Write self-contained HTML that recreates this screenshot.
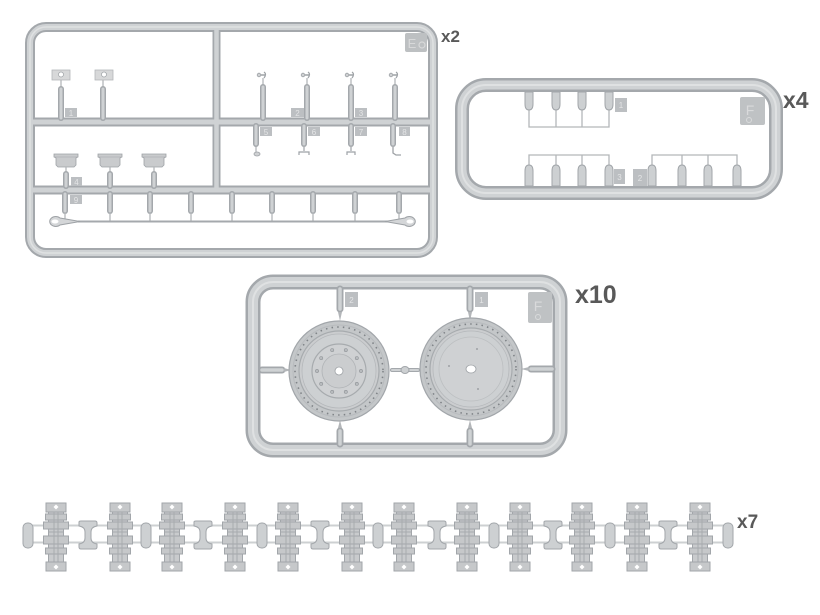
<!DOCTYPE html>
<html>
<head>
<meta charset="utf-8">
<style>
html,body{margin:0;padding:0;background:#fff;}
svg{display:block;}
.t{font-family:"Liberation Sans",sans-serif;font-weight:bold;fill:#595959;}
.lb{fill:#bcbfc2;}
.lt{font-family:"Liberation Sans",sans-serif;font-size:8px;fill:#e4e5e6;text-anchor:middle;}
.d{fill:none;stroke:#a4a8ac;}
.l{fill:none;stroke:#cfd2d4;}
.h{fill:none;stroke:#dfe1e2;}
.thin{fill:none;stroke:#b3b6b9;stroke-width:1.3;}
</style>
</head>
<body>
<svg width="820" height="615" viewBox="0 0 820 615" xmlns="http://www.w3.org/2000/svg">
<defs>
  <g id="link">
    <rect x="-10" y="-32" width="20" height="9" fill="#c6c8ca" stroke="#a2a6aa" stroke-width="1"/>
    <path d="M0,-30.5 L2.5,-28 L0,-25.5 L-2.5,-28Z" fill="#fff"/>
    <rect x="-7.5" y="-23" width="15" height="50" fill="#c9cbcd" stroke="#a2a6aa" stroke-width="1"/>
    <rect x="-10.5" y="-21" width="21" height="6" fill="#c6c8ca" stroke="#a2a6aa" stroke-width="1"/>
    <rect x="-12.5" y="-13" width="25" height="7" fill="#c6c8ca" stroke="#a2a6aa" stroke-width="1"/>
    <rect x="-12.5" y="1" width="25" height="8" fill="#c6c8ca" stroke="#a2a6aa" stroke-width="1"/>
    <rect x="-10.5" y="13" width="21" height="6" fill="#c6c8ca" stroke="#a2a6aa" stroke-width="1"/>
    <line x1="-2" y1="-23" x2="-2" y2="27" stroke="#a8abae" stroke-width="1"/>
    <line x1="2" y1="-23" x2="2" y2="27" stroke="#a8abae" stroke-width="1"/>
    <line x1="-7.5" y1="-3" x2="7.5" y2="-3" stroke="#a8abae" stroke-width="1"/>
    <rect x="-10" y="27" width="20" height="9" fill="#c6c8ca" stroke="#a2a6aa" stroke-width="1"/>
    <path d="M0,29.5 L2.5,32 L0,34.5 L-2.5,32Z" fill="#fff"/>
  </g>
  <g id="hconn">
    <path d="M-9,-13 Q-9,-14 -7,-14 L7,-14 Q9,-14 9,-12 L9,-9 Q3,-8 3,-3 L3,3 Q3,8 9,9 L9,12 Q9,14 7,14 L-7,14 Q-9,14 -9,12 L-9,9 Q-3,8 -3,3 L-3,-3 Q-3,-8 -9,-9Z" fill="#cdd0d2" stroke="#a2a6aa" stroke-width="1"/>
  </g>
  <g id="pill">
    <rect x="-5" y="-12" width="10" height="25" rx="4.5" fill="#cdd0d2" stroke="#a2a6aa" stroke-width="1"/>
  </g>
  <g id="hk">
    <line class="thin" x1="0" y1="78" x2="0" y2="86"/>
    <line class="d" x1="0" y1="87" x2="0" y2="118" stroke-width="6" stroke-linecap="round"/>
    <line class="l" x1="0" y1="87" x2="0" y2="118" stroke-width="3" stroke-linecap="round"/>
    <path d="M-6,75 L2,75" stroke="#9ea2a6" stroke-width="1.5"/>
    <circle cx="-4" cy="75" r="1.8" fill="#cfd1d3" stroke="#9ea2a6" stroke-width="0.8"/>
    <path d="M1,72 Q4,74 1,78" fill="none" stroke="#9ea2a6" stroke-width="1.2"/>
  </g>
  <g id="hd">
    <path d="M-12,154 L12,154 L12,157 L10,158 L10,165 L8,167 L-8,167 L-10,165 L-10,158 L-12,157Z" fill="#c9cbcd" stroke="#9ea2a6" stroke-width="0.8"/>
    <line x1="-12" y1="157" x2="12" y2="157" stroke="#aeb1b4" stroke-width="0.8"/>
    <line class="thin" x1="0" y1="167" x2="0" y2="173"/>
    <line class="d" x1="0" y1="174" x2="0" y2="186" stroke-width="6" stroke-linecap="round"/>
    <line class="l" x1="0" y1="174" x2="0" y2="186" stroke-width="3" stroke-linecap="round"/>
  </g>
  <g id="bs">
    <line class="d" x1="0" y1="194" x2="0" y2="211" stroke-width="6" stroke-linecap="round"/>
    <line class="l" x1="0" y1="194" x2="0" y2="211" stroke-width="3" stroke-linecap="round"/>
    <line class="thin" x1="0" y1="213" x2="0" y2="221"/>
  </g>
  <g id="pu">
    <path d="M-4,92 L4,92 L4,104 Q4,110 0,110 Q-4,110 -4,104Z" fill="#cdd0d2" stroke="#a2a6aa" stroke-width="1"/>
  </g>
  <g id="pl">
    <path d="M-4,186 L4,186 L4,171 Q4,165 0,165 Q-4,165 -4,171Z" fill="#cdd0d2" stroke="#a2a6aa" stroke-width="1"/>
  </g>
</defs>

<!-- ================= SPRUE 1 ================= -->
<g>
  <rect class="d" x="30" y="27" width="403" height="226" rx="16" stroke-width="10"/>
  <line class="d" x1="216.5" y1="27" x2="216.5" y2="190" stroke-width="8"/>
  <line class="d" x1="30" y1="122" x2="433" y2="122" stroke-width="9"/>
  <line class="d" x1="30" y1="190" x2="433" y2="190" stroke-width="9"/>
  <rect class="l" x="30" y="27" width="403" height="226" rx="16" stroke-width="6"/>
  <line class="l" x1="216.5" y1="29" x2="216.5" y2="188" stroke-width="4.5"/>
  <line class="l" x1="32" y1="122" x2="431" y2="122" stroke-width="5"/>
  <line class="l" x1="32" y1="190" x2="431" y2="190" stroke-width="5"/>
  <rect class="h" x="30" y="27" width="403" height="226" rx="16" stroke-width="1.5"/>

  <rect x="405" y="33" width="22" height="19" rx="2" fill="#bdc0c2"/>
  <text x="412" y="48" font-family="Liberation Sans, sans-serif" font-size="13" fill="#d8d9da" text-anchor="middle">E</text>
  <circle cx="422" cy="45" r="3" fill="none" stroke="#d8d9da" stroke-width="1.2"/>

  <g>
    <line class="thin" x1="61" y1="80" x2="61" y2="88"/>
    <line class="thin" x1="103" y1="80" x2="103" y2="88"/>
    <line class="d" x1="61" y1="89" x2="61" y2="118" stroke-width="6" stroke-linecap="round"/>
    <line class="d" x1="103" y1="89" x2="103" y2="118" stroke-width="6" stroke-linecap="round"/>
    <line class="l" x1="61" y1="89" x2="61" y2="118" stroke-width="3" stroke-linecap="round"/>
    <line class="l" x1="103" y1="89" x2="103" y2="118" stroke-width="3" stroke-linecap="round"/>
    <rect x="52" y="70" width="18" height="10" fill="#d7d8d9" stroke="#b4b7ba" stroke-width="0.8"/>
    <circle cx="61" cy="74.5" r="2.5" fill="#fff" stroke="#9ea2a6" stroke-width="0.7"/>
    <rect x="95" y="70" width="18" height="10" fill="#d7d8d9" stroke="#b4b7ba" stroke-width="0.8"/>
    <circle cx="104" cy="74.5" r="2.5" fill="#fff" stroke="#9ea2a6" stroke-width="0.7"/>
    <rect class="lb" x="65" y="108" width="12" height="9"/>
    <text class="lt" x="71" y="116">1</text>
  </g>

  <g>
    <use href="#hk" x="263"/>
    <use href="#hk" x="307"/>
    <use href="#hk" x="351"/>
    <use href="#hk" x="395"/>
    <rect class="lb" x="291" y="108" width="13" height="9"/>
    <text class="lt" x="297.5" y="116">2</text>
    <rect class="lb" x="355" y="108" width="12" height="9"/>
    <text class="lt" x="361" y="116">3</text>
  </g>

  <g>
    <line class="d" x1="256" y1="126" x2="256" y2="144" stroke-width="6" stroke-linecap="round"/>
    <line class="d" x1="304" y1="126" x2="304" y2="144" stroke-width="6" stroke-linecap="round"/>
    <line class="d" x1="351" y1="126" x2="351" y2="144" stroke-width="6" stroke-linecap="round"/>
    <line class="d" x1="393" y1="126" x2="393" y2="144" stroke-width="6" stroke-linecap="round"/>
    <line class="l" x1="256" y1="126" x2="256" y2="144" stroke-width="3" stroke-linecap="round"/>
    <line class="l" x1="304" y1="126" x2="304" y2="144" stroke-width="3" stroke-linecap="round"/>
    <line class="l" x1="351" y1="126" x2="351" y2="144" stroke-width="3" stroke-linecap="round"/>
    <line class="l" x1="393" y1="126" x2="393" y2="144" stroke-width="3" stroke-linecap="round"/>
    <line class="thin" x1="256" y1="147" x2="256" y2="152"/>
    <ellipse cx="257" cy="154" rx="3" ry="2" fill="#cfd1d3" stroke="#9ea2a6" stroke-width="0.8"/>
    <path d="M304,147 L304,151 M299,155 L299,152 L309,152 L309,155" fill="none" stroke="#9ea2a6" stroke-width="1.2"/>
    <path d="M351,147 L351,151 M347,155 L347,152 L355,152 L355,155" fill="none" stroke="#9ea2a6" stroke-width="1.2"/>
    <path d="M393,147 L393,153 L396,155 L401,155" fill="none" stroke="#9ea2a6" stroke-width="1.3"/>
    <rect class="lb" x="260" y="127" width="12" height="9"/>
    <text class="lt" x="266" y="135">5</text>
    <rect class="lb" x="308" y="127" width="12" height="9"/>
    <text class="lt" x="314" y="135">6</text>
    <rect class="lb" x="355" y="127" width="12" height="9"/>
    <text class="lt" x="361" y="135">7</text>
    <rect class="lb" x="399" y="127" width="11" height="9"/>
    <text class="lt" x="404.5" y="135">8</text>
  </g>

  <g>
    <use href="#hd" x="66"/>
    <use href="#hd" x="110"/>
    <use href="#hd" x="154"/>
    <rect class="lb" x="71" y="177" width="11" height="9"/>
    <text class="lt" x="76.5" y="185">4</text>
  </g>

  <g>
    <use href="#bs" x="65"/>
    <use href="#bs" x="110"/>
    <use href="#bs" x="150"/>
    <use href="#bs" x="191"/>
    <use href="#bs" x="232"/>
    <use href="#bs" x="272"/>
    <use href="#bs" x="313"/>
    <use href="#bs" x="355"/>
    <use href="#bs" x="399"/>
    <line x1="78" y1="221.5" x2="388" y2="221.5" stroke="#a5a9ad" stroke-width="2"/>
    <path d="M80,221.5 L60,218 A6,5 0 1 0 60,225 Z" fill="#d4d6d8" stroke="#9ea2a6" stroke-width="1"/>
    <ellipse cx="55" cy="221.5" rx="3.5" ry="2" fill="#fff"/>
    <path d="M385,221.5 L405,218 A6,5 0 1 1 405,225 Z" fill="#d4d6d8" stroke="#9ea2a6" stroke-width="1"/>
    <ellipse cx="410" cy="221.5" rx="3.5" ry="2" fill="#fff"/>
    <rect class="lb" x="70" y="195" width="12" height="9"/>
    <text class="lt" x="76" y="203">9</text>
  </g>
</g>
<text class="t" x="441" y="42" font-size="17">x2</text>

<!-- ================= SPRUE 2 ================= -->
<g>
  <rect class="d" x="462" y="85" width="314" height="108" rx="24" stroke-width="14"/>
  <rect class="l" x="462" y="85" width="314" height="108" rx="24" stroke-width="9"/>
  <rect class="h" x="462" y="85" width="314" height="108" rx="24" stroke-width="2"/>

  <g>
    <path d="M529,110 L529,127 L609,127 L609,110 M556,110 L556,127 M582,110 L582,127" fill="none" stroke="#b3b6b9" stroke-width="1.3"/>
    <use href="#pu" x="529"/>
    <use href="#pu" x="556"/>
    <use href="#pu" x="582"/>
    <use href="#pu" x="609"/>
    <rect class="lb" x="615" y="98" width="12" height="14"/>
    <text class="lt" x="621" y="108">1</text>
  </g>
  <g>
    <path d="M529,165 L529,155 L609,155 L609,165 M556,155 L556,165 M582,155 L582,165" fill="none" stroke="#b3b6b9" stroke-width="1.3"/>
    <path d="M652,165 L652,155 L737,155 L737,165 M682,155 L682,165 M708,155 L708,165" fill="none" stroke="#b3b6b9" stroke-width="1.3"/>
    <use href="#pl" x="529"/>
    <use href="#pl" x="556"/>
    <use href="#pl" x="582"/>
    <use href="#pl" x="609"/>
    <use href="#pl" x="652"/>
    <use href="#pl" x="682"/>
    <use href="#pl" x="708"/>
    <use href="#pl" x="737"/>
    <rect class="lb" x="614" y="169" width="11" height="15"/>
    <text class="lt" x="619.5" y="180">3</text>
    <rect class="lb" x="633" y="169" width="14" height="17"/>
    <text class="lt" x="640" y="181">2</text>
  </g>
  <rect x="740" y="97" width="25" height="28" rx="2" fill="#bfc2c4"/>
  <text x="750" y="115" font-family="Liberation Sans, sans-serif" font-size="14" fill="#d9dadb" text-anchor="middle">F</text>
  <circle cx="749" cy="120" r="2.5" fill="none" stroke="#d9dadb" stroke-width="1"/>
</g>
<text class="t" x="783" y="108" font-size="23">x4</text>

<!-- ================= SPRUE 3 ================= -->
<g>
  <rect class="d" x="253" y="282" width="307" height="168" rx="20" stroke-width="15"/>
  <rect class="l" x="253" y="282" width="307" height="168" rx="20" stroke-width="10"/>
  <rect class="h" x="253" y="282" width="307" height="168" rx="20" stroke-width="2"/>

  <g>
    <line class="d" x1="340" y1="289" x2="340" y2="309" stroke-width="7" stroke-linecap="round"/>
    <line class="l" x1="340" y1="289" x2="340" y2="309" stroke-width="3.5" stroke-linecap="round"/>
    <path d="M338,312 L340,321 L342,312Z" fill="#b3b6b9"/>
    <line class="d" x1="470" y1="289" x2="470" y2="309" stroke-width="7" stroke-linecap="round"/>
    <line class="l" x1="470" y1="289" x2="470" y2="309" stroke-width="3.5" stroke-linecap="round"/>
    <path d="M468,312 L470,321 L472,312Z" fill="#b3b6b9"/>

    <line class="d" x1="340" y1="431" x2="340" y2="444" stroke-width="7" stroke-linecap="round"/>
    <line class="l" x1="340" y1="431" x2="340" y2="444" stroke-width="3.5" stroke-linecap="round"/>
    <path d="M338,428 L340,420 L342,428Z" fill="#b3b6b9"/>
    <line class="d" x1="470" y1="431" x2="470" y2="444" stroke-width="7" stroke-linecap="round"/>
    <line class="l" x1="470" y1="431" x2="470" y2="444" stroke-width="3.5" stroke-linecap="round"/>
    <path d="M468,428 L470,420 L472,428Z" fill="#b3b6b9"/>

    <line class="d" x1="262" y1="370" x2="282" y2="370" stroke-width="7" stroke-linecap="round"/>
    <line class="l" x1="262" y1="370" x2="282" y2="370" stroke-width="3.5" stroke-linecap="round"/>
    <path d="M284,368 L291,370 L284,372Z" fill="#b3b6b9"/>
    <line class="d" x1="531" y1="369" x2="552" y2="369" stroke-width="7" stroke-linecap="round"/>
    <line class="l" x1="531" y1="369" x2="552" y2="369" stroke-width="3.5" stroke-linecap="round"/>
    <path d="M529,367 L521,369 L529,371Z" fill="#b3b6b9"/>

    <line class="d" x1="392" y1="370" x2="418" y2="370" stroke-width="4" stroke-linecap="round"/>
    <line class="l" x1="392" y1="370" x2="418" y2="370" stroke-width="2" stroke-linecap="round"/>
    <ellipse cx="405" cy="370" rx="4" ry="3.5" fill="#cdd0d2" stroke="#a2a6aa" stroke-width="1"/>
  </g>
  <rect class="lb" x="345" y="292" width="13" height="15"/>
  <text class="lt" x="351.5" y="303">2</text>
  <rect class="lb" x="475" y="292" width="13" height="15"/>
  <text class="lt" x="481.5" y="303">1</text>
  <rect x="528" y="292" width="24" height="31" rx="2" fill="#bfc2c4"/>
  <text x="538" y="311" font-family="Liberation Sans, sans-serif" font-size="14" fill="#d9dadb" text-anchor="middle">F</text>
  <circle cx="538" cy="317" r="2.5" fill="none" stroke="#d9dadb" stroke-width="1"/>

  <g transform="translate(339,371)">
    <circle r="50" fill="#c4c7c9" stroke="#a2a6aa" stroke-width="1.2"/>
    <circle r="46" fill="none" stroke="#b8bbbe" stroke-width="1"/>
    <circle r="44" fill="none" stroke="#7f8387" stroke-width="1.6" stroke-dasharray="1.5 4.2"/>
    <circle r="40" fill="#cbcdcf" stroke="#a7abae" stroke-width="1.2"/>
    <circle r="37" fill="#cdd0d2" stroke="#b5b8bb" stroke-width="0.8"/>
    <circle r="27" fill="#cfd1d3" stroke="#a7abae" stroke-width="1.2"/>
    <circle r="17" fill="#cbcdcf" stroke="#b0b3b6" stroke-width="0.8"/>
    <g fill="#b8bbbe" stroke="#8f9397" stroke-width="0.6">
      <circle cx="22" cy="0" r="1.6"/>
      <circle cx="17.8" cy="12.9" r="1.6"/>
      <circle cx="6.8" cy="20.9" r="1.6"/>
      <circle cx="-6.8" cy="20.9" r="1.6"/>
      <circle cx="-17.8" cy="12.9" r="1.6"/>
      <circle cx="-22" cy="0" r="1.6"/>
      <circle cx="-17.8" cy="-12.9" r="1.6"/>
      <circle cx="-6.8" cy="-20.9" r="1.6"/>
      <circle cx="6.8" cy="-20.9" r="1.6"/>
      <circle cx="17.8" cy="-12.9" r="1.6"/>
    </g>
    <circle r="4" fill="#fff" stroke="#9ea2a6" stroke-width="0.8"/>
  </g>
  <g transform="translate(471,369)">
    <circle r="51" fill="#c4c7c9" stroke="#a2a6aa" stroke-width="1.2"/>
    <circle r="47" fill="none" stroke="#b8bbbe" stroke-width="1"/>
    <circle r="45" fill="none" stroke="#7f8387" stroke-width="1.6" stroke-dasharray="1.5 4.2"/>
    <circle r="41" fill="#cbcdcf" stroke="#a7abae" stroke-width="1.2"/>
    <circle r="38" fill="#cdd0d2" stroke="#b5b8bb" stroke-width="0.8"/>
    <circle r="32" fill="#cfd1d3" stroke="#bcbfc1" stroke-width="0.8"/>
    <circle cx="6" cy="-20" r="0.9" fill="#8f9397"/>
    <circle cx="-22" cy="-3" r="0.9" fill="#8f9397"/>
    <circle cx="7" cy="20" r="0.9" fill="#8f9397"/>
    <ellipse cx="0" cy="0" rx="5" ry="4" fill="#fff" stroke="#9ea2a6" stroke-width="0.8"/>
  </g>
</g>
<text class="t" x="575" y="303" font-size="25">x10</text>

<!-- ================= TRACK ================= -->
<g>
  <line x1="28" y1="525.5" x2="728" y2="525.5" stroke="#cdd0d2" stroke-width="2"/>
  <line x1="28" y1="542.5" x2="728" y2="542.5" stroke="#cdd0d2" stroke-width="2"/>
  <use href="#pill" x="28" y="535"/>
  <use href="#hconn" x="88" y="535"/>
  <use href="#pill" x="146" y="535"/>
  <use href="#hconn" x="203" y="535"/>
  <use href="#pill" x="262" y="535"/>
  <use href="#hconn" x="320" y="535"/>
  <use href="#pill" x="378" y="535"/>
  <use href="#hconn" x="437" y="535"/>
  <use href="#pill" x="494" y="535"/>
  <use href="#hconn" x="553" y="535"/>
  <use href="#pill" x="610" y="535"/>
  <use href="#hconn" x="668" y="535"/>
  <use href="#pill" x="728" y="535"/>

  <use href="#link" x="56" y="535"/>
  <use href="#link" x="120" y="535"/>
  <use href="#link" x="172" y="535"/>
  <use href="#link" x="235" y="535"/>
  <use href="#link" x="288" y="535"/>
  <use href="#link" x="352" y="535"/>
  <use href="#link" x="404" y="535"/>
  <use href="#link" x="467" y="535"/>
  <use href="#link" x="520" y="535"/>
  <use href="#link" x="582" y="535"/>
  <use href="#link" x="637" y="535"/>
  <use href="#link" x="700" y="535"/>
</g>
<text class="t" x="737" y="528" font-size="19">x7</text>
</svg>
</body>
</html>
